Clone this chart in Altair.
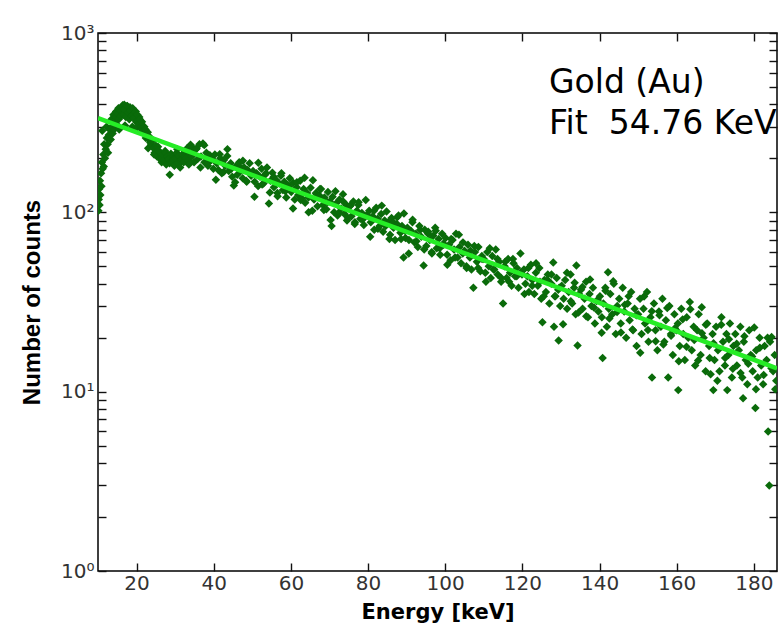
import altair as alt
import pandas as pd

spectrum_10_22 = [
    (10.1, 102), (10.2, 118), (10.3, 135), (10.4, 110), (10.5, 150), (10.6, 125), (10.8, 165), (10.9, 140),
    (11.0, 190), (11.1, 285), (11.2, 175), (11.4, 210), (11.5, 180), (11.6, 240), (11.8, 200), (12.0, 225),
    (12.2, 300), (12.3, 260), (12.5, 240), (12.6, 215), (12.8, 270), (13.0, 290), (13.3, 255), (13.5, 330),
    (13.6, 300), (13.8, 275), (13.9, 320), (14.0, 350), (14.2, 290), (14.5, 340), (14.7, 365), (14.8, 310),
    (15.1, 355), (15.3, 380), (15.4, 330), (15.5, 290), (15.7, 370), (16.0, 345), (16.3, 385), (16.4, 395),
    (16.6, 350), (16.8, 398), (16.9, 375), (17.0, 305), (17.2, 340), (17.5, 390), (17.6, 392), (17.8, 360),
    (18.1, 330), (18.3, 385), (18.4, 370), (18.7, 345), (18.9, 300), (19.0, 380), (19.1, 350), (19.3, 335),
    (19.6, 360), (19.8, 365), (19.9, 320), (20.0, 295), (20.2, 350), (20.5, 310), (20.7, 340), (20.8, 330),
    (21.1, 300), (21.3, 290), (21.4, 320), (21.7, 285), (21.9, 275), (22.0, 300),
]
spectrum_22_35 = [
    (22.3, 290), (22.4, 260), (22.6, 270), (22.9, 280), (23.0, 228), (23.2, 255), (23.5, 262), (23.55, 245),
    (23.8, 240), (24.1, 250), (24.4, 228), (24.55, 210), (24.7, 215), (25.0, 235), (25.3, 205), (25.55, 232),
    (25.6, 222), (25.9, 200), (26.2, 215), (26.5, 190), (26.55, 200), (26.8, 210), (27.1, 195), (27.4, 220),
    (27.55, 215), (27.7, 185), (28.0, 205), (28.3, 198), (28.55, 188), (28.6, 162), (28.9, 212), (29.2, 190),
    (29.5, 205), (29.55, 198), (29.8, 182), (30.1, 200), (30.4, 215), (30.55, 225), (30.7, 188), (31.0, 206),
    (31.3, 178), (31.55, 192), (31.6, 198), (31.9, 210), (32.2, 190), (32.5, 218), (32.55, 205), (32.8, 200),
    (33.1, 228), (33.4, 195), (33.55, 185), (33.7, 212), (34.0, 238), (34.3, 205), (34.55, 230), (34.6, 220),
    (34.9, 190),
]
spectrum_35_60 = [
    (35.4, 225), (35.55, 227), (35.8, 198), (36.3, 240), (36.55, 178), (36.7, 205), (37.2, 242), (37.55, 237),
    (37.6, 190), (38.1, 215), (38.5, 182), (38.55, 189), (39.0, 208), (39.4, 196), (39.55, 199), (39.9, 175),
    (40.3, 210), (40.55, 152), (40.8, 188), (41.2, 172), (41.55, 211), (41.7, 200), (42.1, 165), (42.55, 168),
    (42.6, 195), (43.0, 182), (43.5, 206), (43.55, 225), (43.9, 170), (44.4, 188), (44.55, 175), (44.8, 158),
    (45.2, 141), (45.55, 147), (45.7, 180), (46.1, 162), (46.55, 182), (46.6, 190), (47.0, 170), (47.5, 155),
    (47.55, 194), (47.9, 178), (48.4, 150), (48.55, 148), (48.8, 172), (49.3, 188), (49.55, 165), (49.7, 160),
    (50.2, 170), (50.55, 122), (50.6, 148), (51.1, 165), (51.5, 140), (51.55, 189), (52.0, 158), (52.4, 175),
    (52.55, 143), (52.9, 145), (53.3, 162), (53.55, 165), (53.8, 178), (54.3, 112), (54.55, 129), (54.7, 150),
    (55.2, 166), (55.55, 158), (55.6, 138), (56.1, 152), (56.5, 128), (56.55, 123), (57.0, 145), (57.4, 160),
    (57.55, 165), (57.9, 133), (58.3, 148), (58.55, 131), (58.8, 121), (59.2, 142), (59.55, 139), (59.7, 155),
]
spectrum_60_85 = [
    (60.1, 130), (60.55, 105), (60.6, 146), (61.0, 118), (61.5, 138), (61.55, 147), (61.9, 125), (62.4, 150),
    (62.55, 117), (62.8, 120), (63.3, 135), (63.55, 156), (63.7, 113), (64.2, 128), (64.55, 121), (64.6, 100),
    (65.1, 137), (65.55, 102), (65.7, 151), (66.0, 118), (66.5, 128), (66.55, 127), (66.9, 108), (67.4, 124),
    (67.55, 135), (67.8, 135), (68.3, 110), (68.55, 103), (68.7, 121), (69.2, 104), (69.55, 114), (69.6, 130),
    (70.1, 115), (70.3, 90.5), (70.55, 84), (70.8, 122), (71.2, 100), (71.55, 131), (71.7, 112), (72.1, 96),
    (72.55, 100), (72.6, 118), (73.0, 105), (73.5, 126), (73.55, 115), (73.9, 98), (74.4, 110), (74.55, 90),
    (74.8, 93), (75.3, 108), (75.55, 110), (75.7, 95), (76.2, 115), (76.55, 86), (76.6, 88), (77.1, 102),
    (77.5, 110), (77.55, 114), (78.0, 92), (78.4, 99), (78.55, 91), (78.9, 85), (79.4, 117), (79.55, 96),
    (79.8, 96), (80.3, 102), (80.55, 73), (80.7, 88), (81.2, 95), (81.55, 102), (81.6, 80), (82.1, 106),
    (82.5, 92), (82.55, 81), (83.0, 84), (83.4, 98), (83.55, 109), (83.9, 78), (84.3, 90), (84.55, 84),
    (84.8, 101),
]
spectrum_85_110 = [
    (85.2, 88), (85.55, 71), (85.7, 75), (86.1, 93), (86.55, 88), (86.6, 82), (87.0, 70), (87.5, 86),
    (87.55, 94), (87.9, 96), (88.4, 77), (88.55, 71), (88.8, 84), (89.2, 56), (89.3, 98.5), (89.55, 79),
    (89.7, 72), (90.2, 82), (90.55, 59), (90.6, 70), (91.1, 79), (91.5, 88), (91.55, 91), (92.0, 68),
    (92.4, 76), (92.55, 69), (92.9, 64), (93.3, 84), (93.55, 80), (93.8, 73), (94.4, 50.6), (94.55, 62),
    (94.7, 80), (95.1, 65), (95.55, 76), (95.6, 78), (96.0, 70), (96.5, 60), (96.55, 59), (96.9, 74),
    (97.4, 82), (97.55, 79), (97.8, 63), (98.3, 71), (98.55, 63), (98.7, 58), (99.2, 76), (99.55, 67),
    (99.6, 66), (100.1, 72), (100.5, 58), (100.55, 51), (101.0, 66), (101.4, 54), (101.55, 71), (101.9, 70),
    (102.3, 62), (102.55, 56), (102.8, 76), (103.2, 56), (103.55, 75), (103.7, 64), (104.1, 52), (104.55, 59),
    (104.6, 68), (105.0, 61), (105.5, 50), (105.55, 49), (105.9, 66), (106.4, 56), (106.55, 61), (106.8, 48),
    (107.3, 38), (107.55, 65), (107.7, 60), (108.2, 53), (108.55, 49), (108.6, 64), (109.1, 47), (109.5, 57),
    (109.55, 55),
]
spectrum_110_135 = [
    (110.0, 55), (110.4, 46), (110.55, 41), (110.9, 60), (111.3, 50), (111.55, 63), (111.8, 43), (112.2, 57),
    (112.55, 48), (112.7, 48), (113.1, 62), (113.55, 55), (113.6, 45), (114.0, 53), (114.5, 41), (114.55, 43),
    (115.0, 31), (115.4, 50), (115.55, 53), (115.9, 43), (116.3, 55), (116.55, 41), (116.8, 46), (117.2, 39),
    (117.55, 55), (117.7, 52), (118.1, 44), (118.55, 44), (118.6, 49), (119.0, 38), (119.5, 59), (119.55, 46),
    (119.9, 45), (120.4, 48), (120.55, 35), (120.8, 40), (121.3, 44), (121.55, 49), (121.7, 36), (122.2, 51),
    (122.55, 39), (122.6, 42), (123.1, 35), (123.5, 46), (123.55, 52), (124.0, 39), (124.4, 49), (124.55, 41),
    (124.9, 33), (125.2, 24.4), (125.55, 34), (125.7, 42), (126.1, 36), (126.55, 42), (126.6, 45), (127.0, 31),
    (127.5, 40), (127.55, 45), (128.0, 52.5), (128.2, 23), (128.4, 34), (128.55, 34), (128.9, 43), (129.3, 37),
    (129.4, 19.3), (129.55, 38), (129.8, 30), (130.2, 39), (130.55, 23.8), (130.7, 33), (131.1, 42), (131.55, 46),
    (131.6, 29), (132.0, 36), (132.5, 45), (132.55, 31.9), (132.9, 31), (133.4, 38), (133.55, 40.5), (133.8, 27),
    (134.0, 50.6), (134.3, 18.1), (134.55, 27.6), (134.7, 35),
]
spectrum_135_160 = [
    (135.2, 37), (135.55, 38.3), (135.6, 29), (136.1, 33), (136.5, 41), (136.55, 26.3), (137.0, 26), (137.4, 35),
    (137.55, 42.2), (137.9, 30), (138.3, 38), (138.55, 29.5), (138.8, 24), (139.2, 32), (139.55, 32.4), (139.7, 28),
    (140.1, 34), (140.55, 21.3), (140.6, 26), (140.8, 15.4), (141.0, 31), (141.5, 38), (141.55, 36.5), (141.9, 23),
    (142.2, 46.4), (142.4, 29), (142.55, 25.6), (142.8, 35), (143.3, 27), (143.55, 41.3), (143.7, 40), (144.2, 21),
    (144.55, 27.8), (144.6, 30), (145.1, 33), (145.5, 24), (145.55, 21.4), (146.0, 38), (146.4, 28), (146.55, 30.5),
    (146.9, 20), (147.3, 31), (147.55, 34), (147.8, 25), (148.2, 36), (148.55, 22.2), (148.7, 22), (149.1, 29),
    (149.55, 26.7), (149.6, 18), (150.0, 27), (150.5, 33), (150.55, 16.5), (150.9, 21), (151.4, 29), (151.55, 33.9),
    (151.8, 24), (152.3, 36), (152.55, 22.1), (152.7, 19), (153.2, 26), (153.55, 28.1), (153.6, 12.0), (154.1, 31),
    (154.5, 22), (154.55, 19.1), (155.0, 17), (155.4, 28), (155.55, 26.7), (155.9, 23), (156.3, 33), (156.55, 18.3),
    (156.8, 19), (157.2, 25), (157.55, 29.3), (157.8, 12.0), (158.1, 30), (158.5, 21), (158.55, 20.5), (159.0, 16),
    (159.4, 27), (159.55, 22.6), (159.9, 22),
]
spectrum_160_186 = [
    (160.3, 24), (160.4, 10.2), (160.55, 14.8), (160.8, 18), (161.2, 29), (161.55, 25.3), (161.7, 21), (162.1, 15),
    (162.55, 17.8), (162.6, 26), (163.0, 20), (163.4, 31.6), (163.55, 28.8), (163.9, 17), (164.4, 23), (164.55, 19.4),
    (164.8, 14), (165.3, 22), (165.55, 14.9), (165.7, 27), (166.2, 16), (166.5, 29.6), (166.55, 21.2), (167.0, 20),
    (167.5, 13), (167.55, 23.6), (167.9, 24), (168.4, 18), (168.55, 15.4), (168.8, 12.5), (169.3, 21), (169.5, 10.2),
    (169.55, 18.6), (169.8, 15), (170.2, 23), (170.55, 11.5), (170.7, 17), (171.1, 13), (171.55, 23.6), (171.6, 26),
    (172.0, 19), (172.5, 14), (172.55, 15.4), (172.9, 21), (173.1, 10.2), (173.4, 16), (173.55, 19.6), (173.8, 24),
    (174.3, 12), (174.55, 13.4), (174.7, 18), (175.2, 21), (175.55, 18.5), (175.6, 14), (176.1, 17), (176.5, 23),
    (176.55, 12.7), (177.0, 12), (177.2, 9.2), (177.4, 19), (177.55, 20.4), (177.9, 15), (178.3, 11), (178.55, 14.3),
    (178.8, 22), (179.2, 16), (179.55, 15.7), (179.7, 13), (180.1, 22.8), (180.4, 8.1), (180.55, 10.3), (180.6, 17),
    (181.0, 12), (181.5, 20), (181.55, 17.6), (181.9, 14), (182.4, 11), (182.55, 12.4), (182.8, 18), (183.3, 15),
    (183.55, 20.0), (183.7, 6.0), (184.0, 3.0), (184.2, 19), (184.55, 13.5), (184.6, 20.2), (185.0, 13), (185.4, 16),
    (185.55, 10.3), (185.8, 11.5),
]

# Exponential fit (straight line on log axis): end points
fit_energy = [10, 186]
fit_counts = [335, 13.5]

# Axes
x_domain = [10, 186]
x_ticks = [20, 40, 60, 80, 100, 120, 140, 160, 180]
y_domain = [1, 1000]
y_ticks = [1, 2, 3, 4, 5, 6, 7, 8, 9,
           10, 20, 30, 40, 50, 60, 70, 80, 90,
           100, 200, 300, 400, 500, 600, 700, 800, 900, 1000]
y_major = [1, 10, 100, 1000]
y_major_labels = ["10⁰", "10¹", "10²", "10³"]

annotation_lines = ["Gold (Au)", "Fit\u00a0\u00a054.76 KeV"]

spectrum = (spectrum_10_22 + spectrum_22_35 + spectrum_35_60 + spectrum_60_85
            + spectrum_85_110 + spectrum_110_135 + spectrum_135_160 + spectrum_160_186)
df = pd.DataFrame(spectrum, columns=["energy", "counts"])
fit_df = pd.DataFrame({"energy": fit_energy, "counts": fit_counts})

label_expr = " : ".join(
    f"datum.value == {v} ? '{t}'" for v, t in zip(y_major, y_major_labels)
) + " : ''"

xscale = alt.Scale(domain=x_domain, nice=False, zero=False)
yscale = alt.Scale(type="log", domain=y_domain, nice=False)

TICK = 8
LABEL_FONT = "DejaVu Sans"

points = alt.Chart(df).mark_point(
    shape="diamond", filled=True, size=72, color="#0a6b0a", opacity=1, clip=True
).encode(
    x=alt.X("energy:Q", scale=xscale, axis=alt.Axis(
        orient="bottom", values=x_ticks, offset=-TICK, tickSize=TICK, domain=False, grid=False,
        tickColor="#111", tickWidth=1.4, labelFont=LABEL_FONT, labelFontSize=20,
        labelColor="#333", labelPadding=2, labelFlush=False, labelOverlap=False,
        title="Energy [keV]", titleFont=LABEL_FONT, titleFontSize=21, titleFontWeight="bold",
        titleColor="black", titleY=49, titleBaseline="middle")),
    y=alt.Y("counts:Q", scale=yscale, axis=alt.Axis(
        orient="left", values=y_ticks, offset=-TICK, tickSize=TICK, domain=False, grid=False,
        tickColor="#111", tickWidth=1.4, labelExpr=label_expr, labelOverlap=False,
        labelFont=LABEL_FONT, labelFontSize=20, labelColor="#333", labelPadding=4,
        labelFlush=False,
        title="Number of counts", titleFont="Liberation Sans", titleFontSize=24,
        titleFontWeight="bold", titleColor="black", titleX=-74, titleY=269,
        titleAlign="center", titleBaseline="middle")),
)

fit = alt.Chart(fit_df).mark_line(color="#26ec26", strokeWidth=4.5, clip=True).encode(
    x=alt.X("energy:Q", scale=xscale, axis=alt.Axis(
        orient="top", values=x_ticks, offset=-TICK, tickSize=TICK, domain=False, grid=False,
        labels=False, tickColor="#111", tickWidth=1.4, title=None)),
    y=alt.Y("counts:Q", scale=yscale, axis=alt.Axis(
        orient="right", values=y_ticks, offset=-TICK, tickSize=TICK, domain=False, grid=False,
        labels=False, tickColor="#111", tickWidth=1.4, title=None)),
)

annotation = alt.Chart(pd.DataFrame({"k": [0]})).mark_text(
    text=annotation_lines, align="left", baseline="alphabetic", font=LABEL_FONT,
    fontSize=33, lineHeight=41, color="black"
).encode(x=alt.value(451), y=alt.value(60))

chart = alt.layer(points, fit, annotation).resolve_axis(
    x="independent", y="independent"
).properties(
    width=679, height=538,
    autosize=alt.AutoSizeParams(type="none"),
    padding={"left": 98, "top": 33, "right": 1, "bottom": 67},
).configure_view(stroke="black", strokeWidth=1.5)

chart.save("out.html", embed_options={"renderer": "svg", "actions": False})
